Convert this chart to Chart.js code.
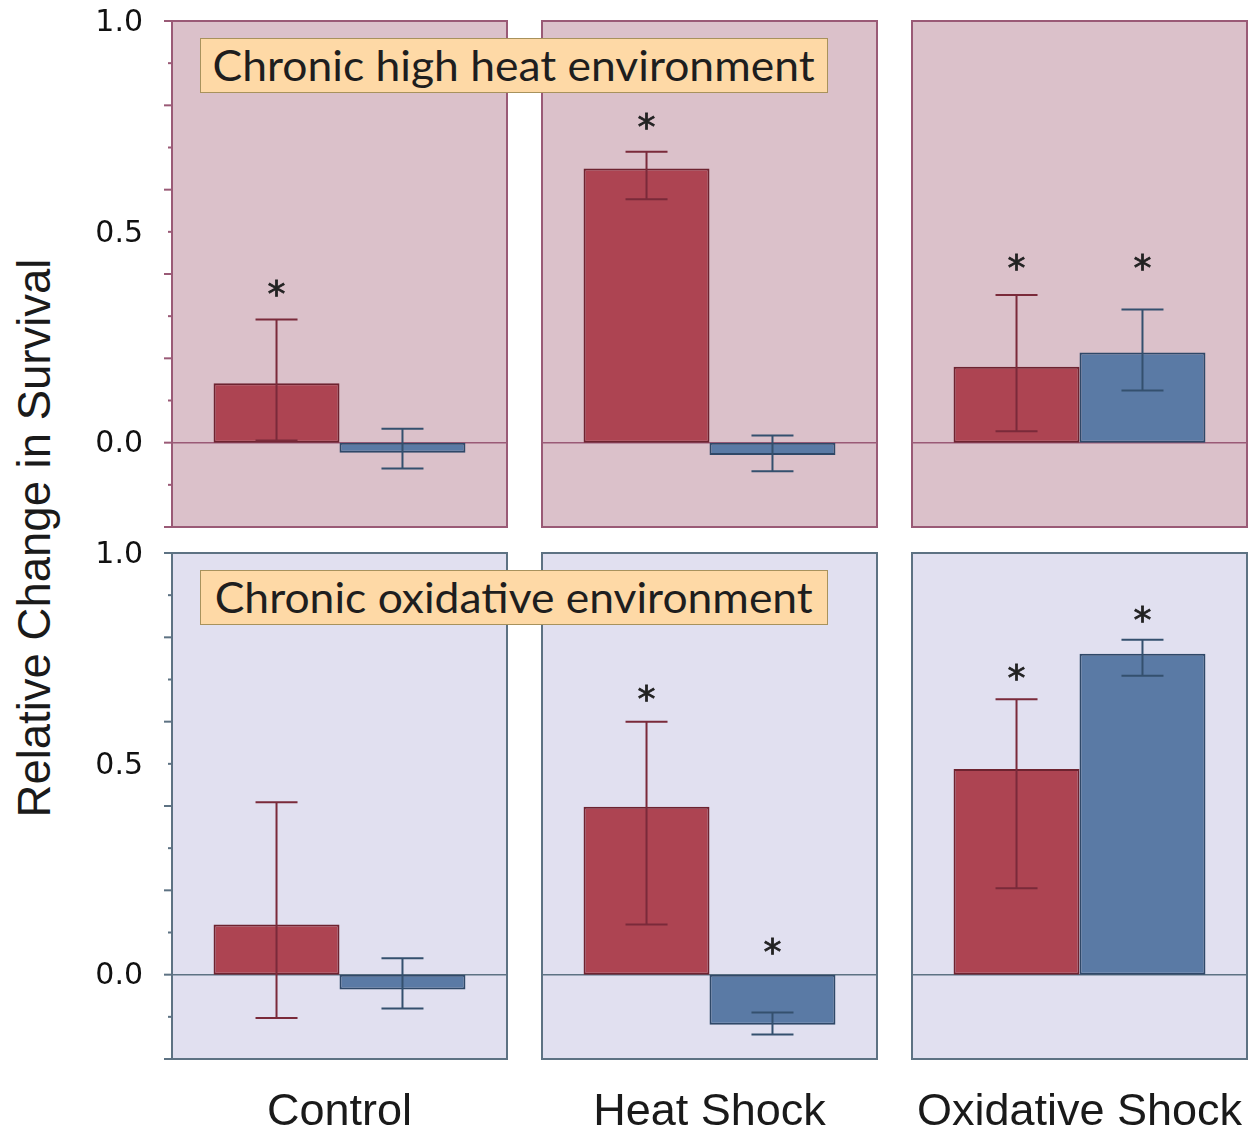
<!DOCTYPE html>
<html><head><meta charset="utf-8">
<script src="https://cdn.jsdelivr.net/npm/chart.js@4.4.1/dist/chart.umd.min.js"></script>
<style>
html,body{margin:0;padding:0;background:#fff;}
#wrap{position:relative;width:1255px;height:1132px;overflow:hidden;background:#fff;}
.pan{position:absolute;}
.envlab{position:absolute;left:200px;width:628px;height:55px;box-sizing:border-box;border:1.5px solid #a8925c;background:#fed9a6;font-family:Lato,sans-serif;font-size:42px;color:#1e1e1e;text-align:center;line-height:52px;white-space:nowrap;z-index:5;overflow:visible;}
.envlab span{display:inline-block;transform-origin:center center;}
#ytitle{position:absolute;left:35px;top:538px;transform:translate(-50%,-50%) rotate(-90deg);font-family:'Liberation Sans',Arial,sans-serif;font-size:45.5px;color:#1a1a1a;white-space:nowrap;line-height:1;}
</style></head>
<body><div id="wrap">
<div id="ytitle">Relative Change in Survival</div>
</div>
<script>
// ---------------- data ----------------
const categories = ['Control', 'Heat Shock', 'Oxidative Shock'];
const environments = ['Chronic high heat environment', 'Chronic oxidative environment'];
const yTickValues = [0, 0.5, 1.0];
const yTickLabels = ['0.0', '0.5', '1.0'];

// Row 1: chronic high heat environment
const heatEnvRed      = [0.141, 0.650, 0.180];
const heatEnvRedLo    = [0.005, 0.577, 0.027];
const heatEnvRedHi    = [0.292, 0.690, 0.350];
const heatEnvBlue     = [-0.024, -0.029, 0.214];
const heatEnvBlueLo   = [-0.061, -0.068, 0.124];
const heatEnvBlueHi   = [0.033, 0.017, 0.316];
const heatEnvRedSig   = [0.373, 0.771, 0.435];
const heatEnvBlueSig  = [null, null, 0.435];

// Row 2: chronic oxidative environment
const oxEnvRed        = [0.119, 0.398, 0.488];
const oxEnvRedLo      = [-0.103, 0.119, 0.205];
const oxEnvRedHi      = [0.409, 0.600, 0.653];
const oxEnvBlue       = [-0.035, -0.119, 0.761];
const oxEnvBlueLo     = [-0.080, -0.142, 0.709];
const oxEnvBlueHi     = [0.039, -0.090, 0.794];
const oxEnvRedSig     = [null, 0.675, 0.724];
const oxEnvBlueSig    = [null, 0.075, 0.863];

// ---------------- layout / style ----------------
const rows = [
  {red: heatEnvRed, redLo: heatEnvRedLo, redHi: heatEnvRedHi, redSig: heatEnvRedSig,
   blue: heatEnvBlue, blueLo: heatEnvBlueLo, blueHi: heatEnvBlueHi, blueSig: heatEnvBlueSig,
   bg: '#dbc1ca', border: '#9a5a76'},
  {red: oxEnvRed, redLo: oxEnvRedLo, redHi: oxEnvRedHi, redSig: oxEnvRedSig,
   blue: oxEnvBlue, blueLo: oxEnvBlueLo, blueHi: oxEnvBlueHi, blueSig: oxEnvBlueSig,
   bg: '#e1e0f0', border: '#5d7283'}
];
const panelLeft = [172, 542, 912];
const panelW = 335;
const rowTop = [21, 553];
const panelH = 506;
const W = 1255, H = 1132;

const panelPlugin = {
  id: 'panel',
  beforeDraw(chart, args, opts) {
    const {ctx, chartArea: a} = chart;
    ctx.save();
    ctx.fillStyle = opts.bg;
    ctx.fillRect(a.left, a.top, a.right - a.left, a.bottom - a.top);
    ctx.restore();
  },
  beforeDatasetsDraw(chart, args, opts) {
    const {ctx, chartArea: a} = chart;
    const y = chart.scales.y;
    const z = y.getPixelForValue(0);
    ctx.save();
    ctx.strokeStyle = opts.border;
    ctx.lineWidth = 1.5;
    ctx.beginPath(); ctx.moveTo(a.left, z); ctx.lineTo(a.right, z); ctx.stroke();
    ctx.restore();
  },
  afterDatasetsDraw(chart, args, opts) {
    const {ctx} = chart;
    const y = chart.scales.y;
    chart.data.datasets.forEach((ds, i) => {
      const meta = chart.getDatasetMeta(i);
      meta.data.forEach((bar, j) => {
        const x = bar.x;
        const y1 = y.getPixelForValue(ds.errHi[j]);
        const y2 = y.getPixelForValue(ds.errLo[j]);
        ctx.save();
        ctx.strokeStyle = ds.errColor;
        ctx.lineWidth = 2;
        ctx.beginPath();
        ctx.moveTo(x, y1); ctx.lineTo(x, y2);
        ctx.moveTo(x - 21, y1); ctx.lineTo(x + 21, y1);
        ctx.moveTo(x - 21, y2); ctx.lineTo(x + 21, y2);
        ctx.stroke();
        const s = ds.sig[j];
        if (s !== null && s !== undefined) {
          ctx.fillStyle = '#222';
          ctx.strokeStyle = '#222';
          ctx.lineWidth = 0.8;
          ctx.font = '36px "DejaVu Sans"';
          ctx.textAlign = 'center';
          ctx.textBaseline = 'alphabetic';
          ctx.fillText('*', x, y.getPixelForValue(s) + 21);
          ctx.strokeText('*', x, y.getPixelForValue(s) + 21);
        }
        ctx.restore();
      });
    });
  },
  afterDraw(chart, args, opts) {
    const {ctx, chartArea: a} = chart;
    const y = chart.scales.y;
    ctx.save();
    ctx.strokeStyle = opts.border;
    ctx.lineWidth = 2;
    ctx.strokeRect(a.left, a.top, a.right - a.left, a.bottom - a.top);
    if (opts.showTicks) {
      y.ticks.forEach(t => {
        const p = y.getPixelForValue(t.value);
        const even = Math.round(t.value * 10) % 2 === 0;
        const len = even ? 8 : 4;
        ctx.beginPath(); ctx.moveTo(a.left - len, p); ctx.lineTo(a.left, p); ctx.stroke();
      });
    }
    ctx.restore();
  }
};

const wrap = document.getElementById('wrap');
rows.forEach((row, r) => {
  categories.forEach((cat, c) => {
    const padL = c === 0 ? 112 : 12;
    const padR = c === 2 ? (W - panelLeft[c] - panelW) : 12;
    const padT = 12;
    const padB = r === 1 ? (H - rowTop[r] - panelH) : 12;
    const cw = panelW + padL + padR, ch = panelH + padT + padB;
    const div = document.createElement('div');
    div.className = 'pan';
    div.style.left = (panelLeft[c] - padL) + 'px';
    div.style.top = (rowTop[r] - padT) + 'px';
    div.style.width = cw + 'px'; div.style.height = ch + 'px';
    const cv = document.createElement('canvas');
    cv.width = cw; cv.height = ch;
    cv.style.width = cw + 'px'; cv.style.height = ch + 'px';
    div.appendChild(cv); wrap.appendChild(div);
    new Chart(cv, {
      type: 'bar',
      data: {
        labels: [cat],
        datasets: [
          {data: [row.red[c]], errLo: [row.redLo[c]], errHi: [row.redHi[c]], sig: [row.redSig[c]],
           backgroundColor: '#ad4452', borderColor: '#6e2330', errColor: '#7a2a3a', borderWidth: 2, borderSkipped: false},
          {data: [row.blue[c]], errLo: [row.blueLo[c]], errHi: [row.blueHi[c]], sig: [row.blueSig[c]],
           backgroundColor: '#5a7aa5', borderColor: '#2f4868', errColor: '#34506e', borderWidth: 2, borderSkipped: false}
        ]
      },
      options: {
        responsive: false, animation: false, devicePixelRatio: 1,
        layout: {padding: {left: c === 0 ? 0 : padL, right: padR, top: padT, bottom: r === 1 ? 0 : padB}},
        datasets: {bar: {categoryPercentage: 0.752, barPercentage: 1.0}},
        plugins: {legend: {display: false}, tooltip: {enabled: false},
          panel: {bg: row.bg, border: row.border, showTicks: c === 0}},
        scales: {
          x: {
            display: r === 1,
            grid: {display: false, drawTicks: false},
            border: {display: false},
            ticks: {font: {family: 'Liberation Sans', size: 45}, color: '#1a1a1a', padding: 27, maxRotation: 0, minRotation: 0, autoSkip: false},
            afterFit: s => { if (r === 1) s.height = padB; s.paddingLeft = 0; s.paddingRight = 0; }
          },
          y: {
            display: c === 0,
            min: -0.2, max: 1.0,
            grid: {display: true, drawOnChartArea: false, drawTicks: true, tickLength: 8, tickColor: 'rgba(0,0,0,0)'},
            border: {display: false},
            ticks: {stepSize: 0.1, padding: 21, labelOffset: 2, color: '#111', font: {family: 'DejaVu Sans', size: 30},
              callback: v => { const k = yTickValues.findIndex(t => Math.abs(t - v) < 1e-6); return k >= 0 ? yTickLabels[k] : ''; }},
            afterFit: s => { if (c === 0) s.width = padL; s.paddingTop = 0; s.paddingBottom = 0; }
          }
        }
      },
      plugins: [panelPlugin]
    });
  });
});

// environment labels
environments.forEach((txt, r) => {
  const d = document.createElement('div');
  d.className = 'envlab';
  d.style.top = (rowTop[r] + 17) + 'px';
  const sp = document.createElement('span');
  sp.textContent = txt;
  d.appendChild(sp);
  wrap.appendChild(d);
  const mc = document.createElement('canvas').getContext('2d');
  mc.font = '42px Lato';
  const w = mc.measureText(environments[0]).width;
  sp.style.transform = 'scaleX(' + (602 / w).toFixed(4) + ')';
});
</script>
</body></html>
